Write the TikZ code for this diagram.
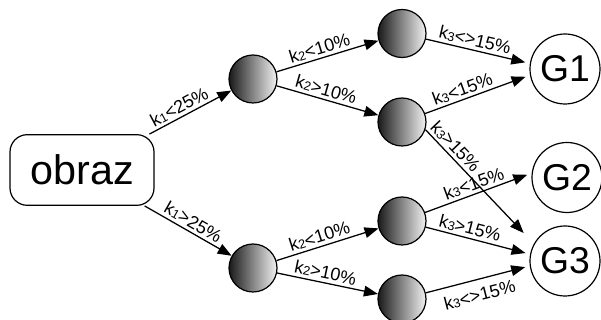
\documentclass[tikz,border=0pt]{standalone}
\usepackage{fontspec}
\setmainfont{Liberation Sans}
\usetikzlibrary{arrows.meta}
\newcommand{\kx}[1]{k\raisebox{-0.4pt}{\fontsize{9.5}{9.5}\selectfont #1}}
\begin{document}
\begin{tikzpicture}[x=0.75pt,y=-0.75pt,
 every node/.style={inner sep=0pt},
 ball/.style={circle, draw, line width=0.9pt, minimum size=36pt, left color=black!90, right color=white!95!black},
 goal/.style={circle, draw, line width=0.9pt, minimum size=52.5pt, font=\fontsize{28}{28}\selectfont},
 srcbox/.style={rectangle, rounded corners=13pt, draw, line width=0.9pt, minimum width=108pt, minimum height=53pt, font=\fontsize{31}{31}\selectfont},
 conn/.style={line width=0.95pt, -{Triangle[length=10.5pt,width=8pt]}},
 gconn/.style={conn, shorten >=3.5pt},
 lab/.style={sloped, font=\fontsize{13.5}{13.5}\selectfont, inner sep=2pt}
]
\useasboundingbox (0,0) rectangle (601,320);
\node[srcbox] (obraz) at (82,170) {obraz};
\node[ball] (C1) at (253,79) {};
\node[ball] (C2) at (253,268) {};
\node[ball] (C3) at (402,33.5) {};
\node[ball] (C4) at (402,122) {};
\node[ball] (C5) at (402,221) {};
\node[ball] (C6) at (402,299) {};
\node[goal] (G1) at (565,69) {G1};
\node[goal] (G2) at (567,177.5) {G2};
\node[goal] (G3) at (565,261) {G3};

\draw[conn] (obraz) -- node[lab, above, pos=0.42] {\kx{1}<25\%} (C1);
\draw[conn] (obraz) -- node[lab, above, pos=0.5] {\kx{1}>25\%} (C2);
\draw[conn] (C1) -- node[lab, above, pos=0.45] {\kx{2}<10\%} (C3);
\draw[conn] (C1) -- node[lab, above, pos=0.46] {\kx{2}>10\%} (C4);
\draw[conn] (C2) -- node[lab, above, pos=0.45] {\kx{2}<10\%} (C5);
\draw[conn] (C2) -- node[lab, above, pos=0.46] {\kx{2}>10\%} (C6);
\draw[gconn] (C3) -- node[lab, above, pos=0.45] {\kx{3}<>15\%} (G1.171);
\draw[gconn] (C4) -- node[lab, above, pos=0.39] {\kx{3}<15\%} (G1.190);
\draw[conn, shorten >=11pt] (C4.-18) -- node[lab, above, pos=0.21] {\kx{3}>15\%} (G3.151);
\draw[gconn] (C5) -- node[lab, above, pos=0.49] {\kx{3}<15\%} (G2.173);
\draw[gconn] (C5) -- node[lab, above, pos=0.4] {\kx{3}>15\%} (G3.169);
\draw[gconn] (C6) -- node[lab, below=4pt, pos=0.48] {\kx{3}<>15\%} (G3.188);
\end{tikzpicture}
\end{document}
